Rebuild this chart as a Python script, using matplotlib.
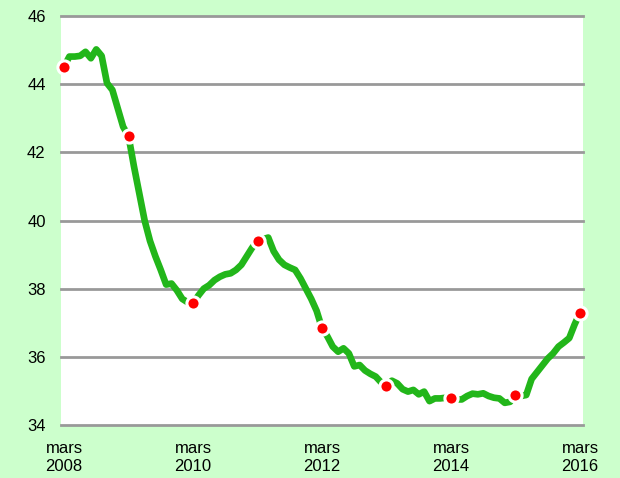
import matplotlib
matplotlib.use("Agg")
import matplotlib.pyplot as plt
import numpy as np

plt.rcParams['font.family'] = ['Liberation Sans', 'DejaVu Sans']

# Monthly values, March 2008 (index 0) to March 2016 (index 96)
values = [
    44.51, 44.81, 44.81, 44.83, 44.95, 44.76, 45.02, 44.83, 44.03, 43.83, 43.29, 42.75,  # 2008-03 .. 2009-02
    42.48, 41.6, 40.8, 40.0, 39.4, 38.95, 38.55, 38.12, 38.15, 37.95, 37.7, 37.6,        # 2009-03 .. 2010-02
    37.57, 37.8, 38.0, 38.1, 38.25, 38.35, 38.42, 38.45, 38.55, 38.7, 38.95, 39.2,        # 2010-03 .. 2011-02
    39.4, 39.45, 39.5, 39.1, 38.85, 38.7, 38.62, 38.55, 38.3, 38.0, 37.7, 37.35,          # 2011-03 .. 2012-02
    36.84, 36.6, 36.3, 36.15, 36.25, 36.1, 35.72, 35.76, 35.6, 35.5, 35.42, 35.25,        # 2012-03 .. 2013-02
    35.13, 35.3, 35.22, 35.05, 34.98, 35.03, 34.9, 34.98, 34.7, 34.78, 34.78, 34.8,       # 2013-03 .. 2014-02
    34.8, 34.75, 34.75, 34.85, 34.92, 34.9, 34.93, 34.85, 34.8, 34.78, 34.65, 34.68,      # 2014-03 .. 2015-02
    34.88, 34.85, 34.88, 35.35, 35.55, 35.75, 35.95, 36.1, 36.3, 36.42, 36.55, 36.95,     # 2015-03 .. 2016-02
    37.3,                                                                                 # 2016-03
]
tick_months = [0, 24, 48, 72, 96]
tick_labels = ["mars\n2008", "mars\n2010", "mars\n2012", "mars\n2014", "mars\n2016"]
y_ticks = [34, 36, 38, 40, 42, 44, 46]
marker_months = [0, 12, 24, 36, 48, 60, 72, 84, 96]

W, H = 620, 478
fig = plt.figure(figsize=(W / 100, H / 100), dpi=100)
fig.patch.set_facecolor('#CCFFCC')
ax = fig.add_axes([61 / W, 1 - 425 / H, (583 - 61) / W, (425 - 16) / H])
ax.set_facecolor('white')

months = np.arange(len(values))
vals = np.array(values)

ax.plot(months, vals, color='#22B61A', lw=4.8, solid_joinstyle='round',
        solid_capstyle='round', zorder=3)
ax.plot(marker_months, vals[marker_months], 'o', color='#FF0000', ms=9.5,
        mec='white', mew=2.2, zorder=4, clip_on=False)

ax.set_ylim(34, 46)
ax.set_xlim(-0.56, 96.56)
ax.set_yticks(y_ticks)
ax.set_yticklabels([str(v) for v in y_ticks])
ax.set_xticks(tick_months)
ax.set_xticklabels(tick_labels, linespacing=1.25)
ax.yaxis.grid(True, color='#999999', lw=2, zorder=1)
ax.xaxis.grid(False)
ax.tick_params(axis='y', length=0, pad=11, labelsize=12, colors='black')
ax.tick_params(axis='x', length=0, pad=11.5, labelsize=12, colors='black')
for s in ax.spines.values():
    s.set_visible(False)
for gl in ax.get_ygridlines():
    gl.set_clip_on(False)

fig.savefig('out.png', dpi=100, facecolor=fig.get_facecolor())
